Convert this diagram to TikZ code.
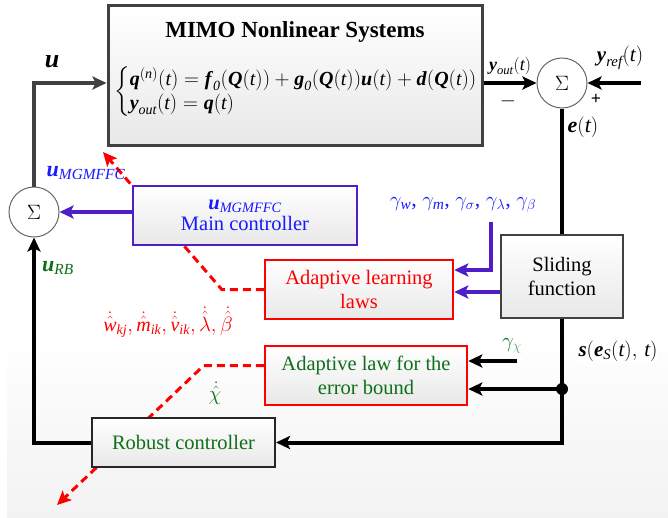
\documentclass[tikz,border=0pt]{standalone}
\usepackage{amsmath}
\usepackage{fontspec}
\setmainfont{Liberation Serif}
\usetikzlibrary{arrows.meta,calc}

\definecolor{boxgray}{RGB}{65,65,65}
\definecolor{mcpurple}{RGB}{80,30,200}
\definecolor{txtblue}{RGB}{25,25,255}
\definecolor{lawred}{RGB}{255,0,0}
\definecolor{lawgreen}{RGB}{15,110,25}
\definecolor{chigreen}{RGB}{90,170,110}

% italic and bold-italic symbols in the text face
\newcommand{\vi}[1]{\textit{#1}}
\newcommand{\vb}[1]{\textbf{\textit{#1}}}
\newcommand{\fs}[1]{\fontsize{#1}{1.2\dimexpr #1pt\relax}\selectfont}

\tikzset{
  blockbox/.style={draw, line width=#1, top color=white, bottom color=black!9,
    align=center, inner sep=0pt, font=\fs{20.5}},
  blockbox/.default=2.5pt,
  sumnode/.style={circle, draw=black!60, line width=1pt, fill=white,
    minimum size=50pt, inner sep=0pt, font=\fs{20}},
  sig/.style={line width=4pt, -{Stealth[length=14pt,width=13pt,inset=3pt]}},
  sigline/.style={line width=4pt},
  upd/.style={line width=3.5pt, draw=mcpurple, -{Stealth[length=14pt,width=13pt,inset=3pt]}},
  reddash/.style={line width=3pt, draw=lawred, dash pattern=on 8pt off 5pt,
    -{Stealth[length=14pt,width=13pt,inset=3pt]}},
  lbl/.style={inner sep=1pt}
}

\begin{document}
\begin{tikzpicture}[x=1pt,y=-1pt]
\useasboundingbox (0,0) rectangle (668,517);
\shade[top color=white, bottom color=black!5] (7,330) rectangle (668,517);

% blocks
\node[blockbox=3pt, draw=boxgray, minimum width=374pt, minimum height=140pt]
  (plant) at (295,75) {};
\node[font=\fs{23}\bfseries] (title) at (295,32) {MIMO Nonlinear Systems};
\node[anchor=west, inner sep=0pt, font=\fs{20}] (eqs) at (114,92)
  {$\left\{\begin{array}{@{}l@{}}
    \vb{q}^{(\vi{n})}(\vi{t}) = \vb{f}_{\vi{0}}(\vb{Q}(\vi{t})) + \vb{g}_{\vi{0}}(\vb{Q}(\vi{t}))\vb{u}(\vi{t}) + \vb{d}(\vb{Q}(\vi{t}))\\[0pt]
    \vb{y}_{\vi{out}}(\vi{t}) = \vb{q}(\vi{t})
  \end{array}\right.$};

\node[sumnode] (rsum) at (562,83) {$\Sigma$};
\node[sumnode] (lsum) at (34,212) {$\Sigma$};

\node[blockbox, draw=boxgray, minimum width=122pt, minimum height=83pt]
  (slide) at (562,276.5) {Sliding\\function};

% red dashed parameter paths (boxes are drawn over them)
\coordinate (paramtip) at (103,152);
\coordinate (chitip) at (57,505);
\node[blockbox, draw=lawred, minimum width=188pt, minimum height=59pt,
  text=lawred] (learn) at (359,289.5) {Adaptive learning\\laws};
\node[blockbox, draw=lawred, minimum width=202pt, minimum height=59pt,
  text=lawgreen] (law) at (366,375.5) {Adaptive law for the\\error bound};
\draw[reddash] (learn.west) -- ++(-42,0) -- (paramtip);
\draw[reddash] ($(law.west)+(0,-10)$) -- ++(-60,0) -- (chitip);

\node[blockbox, draw=mcpurple, minimum width=224pt, minimum height=59pt,
  text=txtblue] (main) at (245,215.5)
  {$\vb{u}_{\vi{MGMFFC}}$\\[-3pt]Main controller};
\node[blockbox=2pt, draw=black!85, minimum width=183pt, minimum height=49pt,
  text=lawgreen] (robust) at (183.5,442.5) {Robust controller};

% feedback loop
\draw[sig, draw=boxgray] (lsum.north) |- (plant.west |- rsum);
\draw[sig, draw=black] (plant.east |- rsum) -- (rsum.west);
\coordinate (yrefin) at (641,83);
\draw[sig, draw=black] (yrefin) -- (rsum.east);
\draw[sigline] (rsum.south) -- (slide.north);
\coordinate (sdot) at (slide.south |- 0,389);
\draw[sig] (slide.south) |- (robust.east);
\draw[sig] (sdot) -- (law.east |- sdot);
\fill (sdot) circle (6pt);
\coordinate (gchi) at (517,361);
\draw[sig, line width=3.5pt] (gchi) -- (law.east |- gchi);
\draw[sig] (robust.west) -| (lsum.south);

% controller and adaptation signals
\draw[upd] (main.west |- lsum) -- (lsum.east);
\coordinate (gset) at (491,222);
\draw[upd] (gset) |- ($(learn.east)+(0,-19.5)$);
\draw[upd] ($(slide.west)+(0,15.5)$) -- ($(learn.east)+(0,2.5)$);

% labels
\node[lbl, font=\fs{26}] (ulbl) at (52,62) {$\vb{u}$};
\node[lbl, font=\fs{22}, text=txtblue] (umg) at (86,173) {$\vb{u}_{\vi{MGMFFC}}$};
\node[lbl, font=\fs{22}, text=lawgreen] (urb) at (58,268) {$\vb{u}_{\vi{RB}}$};
\node[lbl, font=\fs{18}] (yout) at (510,66) {$\vb{y}_{\vi{out}}(\vi{t})$};
\node[lbl, font=\fs{20}\bfseries] (minus) at (508,101) {$-$};
\node[lbl, font=\fs{21}] (yref) at (620,58) {$\vb{y}_{\vi{ref}}(\vi{t})$};
\node[lbl, font=\fs{18}\bfseries] (plus) at (596,99) {+};
\node[lbl, font=\fs{22}] (elbl) at (583,127) {$\vb{e}(\vi{t})$};
\node[lbl, font=\fs{22}, text=txtblue, fill=white] (gammas) at (463,205)
  {$\gamma_{\vi{w}}$, $\gamma_{\vi{m}}$, $\gamma_{\sigma}$, $\gamma_{\lambda}$, $\gamma_{\beta}$};
\node[lbl, font=\fs{20}, text=lawred] (rates) at (168,322)
  {$\dot{\hat{\vi{w}}}_{\vi{kj}}, \dot{\hat{\vi{m}}}_{\vi{ik}}, \dot{\hat{\vi{v}}}_{\vi{ik}}, \dot{\hat{\lambda}}, \dot{\hat{\beta}}$};
\node[lbl, font=\fs{21}, text=lawgreen] (gchilbl) at (512,346)
  {$\gamma_{\textcolor{chigreen}{\chi}}$};
\node[lbl, font=\fs{21}, fill=white] (slbl) at (618,351)
  {$\vb{s}(\vb{e}_{\vi{S}}(\vi{t}),\,\vi{t})$};
\node[lbl, font=\fs{22}, text=lawgreen] (chihat) at (215,393) {$\dot{\hat{\chi}}$};
\end{tikzpicture}
\end{document}
